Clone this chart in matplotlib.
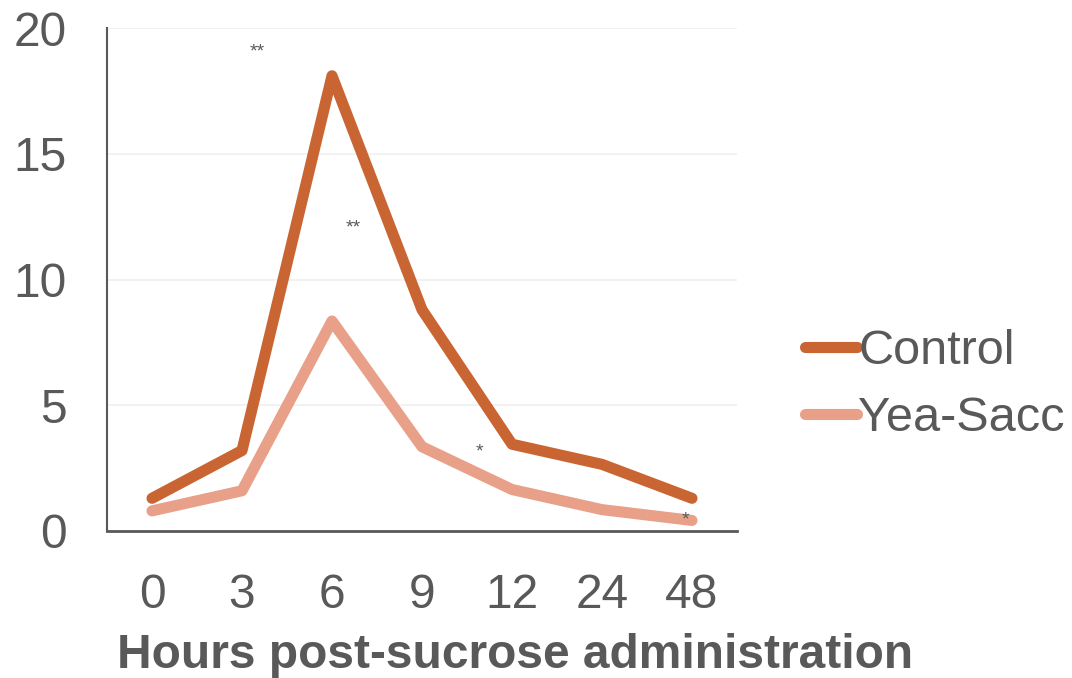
import matplotlib.pyplot as plt

plt.rcParams['font.family'] = ['Liberation Sans', 'DejaVu Sans']

hours = ['0', '3', '6', '9', '12', '24', '48']
control = [1.3, 3.2, 18.1, 8.8, 3.45, 2.65, 1.3]
yea_sacc = [0.8, 1.6, 8.35, 3.35, 1.65, 0.85, 0.42]

# significance marks: (x position, y position, text)
stars_x = [1.17, 2.24, 3.64, 5.93]
stars_y = [19.05, 12.05, 3.14, 0.42]
stars_txt = ['**', '**', '*', '*']

grey = '#595959'
c_control = '#C96532'
c_yea = '#E8A089'

fig = plt.figure(figsize=(10.72, 6.78), dpi=100)
ax = fig.add_axes([107 / 1072, 1 - 531 / 678, 630 / 1072, 503 / 678])

x = range(len(hours))
ax.plot(x, control, color=c_control, lw=8, solid_capstyle='round',
        solid_joinstyle='round', label='Control', zorder=3)
ax.plot(x, yea_sacc, color=c_yea, lw=8, solid_capstyle='round',
        solid_joinstyle='round', label='Yea-Sacc', zorder=3)

for sx, sy, st in zip(stars_x, stars_y, stars_txt):
    ax.text(sx, sy, st, color=grey, fontsize=14, ha='center', va='center', zorder=4)

ax.set_xlim(-0.5, len(hours) - 0.5)
ax.set_ylim(0, 20)
ax.set_yticks([0, 5, 10, 15, 20])
ax.set_xticks(list(x))
ax.set_xticklabels(hours)
ax.tick_params(axis='both', length=0, labelsize=34.5, labelcolor=grey)
ax.tick_params(axis='y', pad=29)
ax.tick_params(axis='x', pad=30)
ax.grid(axis='y', color='#F0F0F0', lw=1.2)
ax.set_axisbelow(True)

for side in ['top', 'right']:
    ax.spines[side].set_visible(False)
ax.spines['left'].set_color(grey)
ax.spines['left'].set_linewidth(1.5)
ax.spines['bottom'].set_color(grey)
ax.spines['bottom'].set_linewidth(2)

fig.text(515 / 1072, 1 - 655 / 678, 'Hours post-sucrose administration',
         fontsize=34.5, fontweight='bold', color=grey, ha='center', va='center')

leg = ax.legend(loc='center left', bbox_to_anchor=(805 / 1072, 1 - 385 / 678),
                bbox_transform=fig.transFigure, frameon=False, fontsize=35,
                handlelength=1.07, handletextpad=0.03, labelspacing=0.45,
                borderaxespad=0, borderpad=0)
for t in leg.get_texts():
    t.set_color(grey)

fig.savefig('out.png', dpi=100)
